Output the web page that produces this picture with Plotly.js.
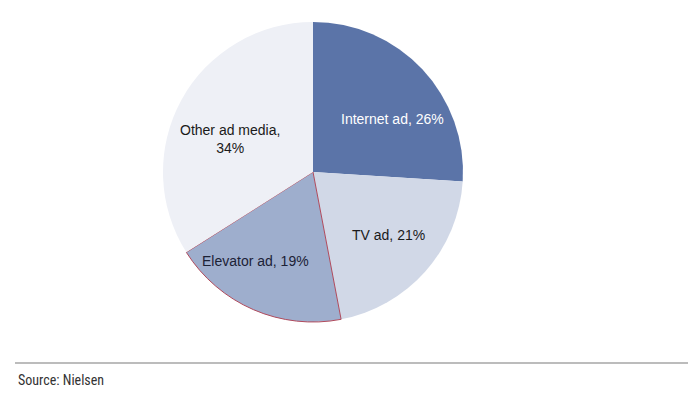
<!DOCTYPE html>
<html>
<head>
<meta charset="utf-8">
<script src="https://cdn.plot.ly/plotly-3.0.1.min.js"></script>
<style>
html,body{margin:0;padding:0;background:#fff;}
#chart{width:695px;height:393px;}
</style>
</head>
<body>
<div id="chart"></div>
<script>
const categories = ["Internet ad", "TV ad", "Elevator ad", "Other ad media"];
const values = [26, 21, 19, 34];
const labelBreak = ["", "", "", "<br>"];
const sliceColors = ["#5b74a8", "#d1d8e7", "#9eaecd", "#eef0f6"];
const textColors = ["#ffffff", "#1a1a1a", "#1c2236", "#1a1a1a"];
const sourceText = "Source: Nielsen";

// label placement (style): radial fraction and angular shift from slice middle
const labelRadius = [0.638, 0.653, 0.708, 0.595];
const labelShift = [9.9, -1.4, 9.7, -7.1];

const W = 695, H = 393;
const pieLeft = 163, pieRight = 463, pieTop = 22, pieBottom = 322;
const cx = (pieLeft + pieRight) / 2, cy = (pieTop + pieBottom) / 2, R = (pieRight - pieLeft) / 2;

const total = values.reduce((a, b) => a + b, 0);
let cum = 0;
const labelAnns = values.map((v, i) => {
  const mid = (cum + v / 2) / total * 360;
  cum += v;
  const a = (mid + labelShift[i]) * Math.PI / 180;
  const px = cx + labelRadius[i] * R * Math.sin(a);
  const py = cy - labelRadius[i] * R * Math.cos(a);
  const pct = Math.round(v / total * 100);
  return {
    text: categories[i] + "," + (labelBreak[i] || " ") + pct + "%",
    xref: "paper", yref: "paper", x: px / W, y: 1 - py / H,
    xanchor: "center", yanchor: "middle", showarrow: false,
    font: {family: "Liberation Sans, Arial, sans-serif", size: 14, color: textColors[i]}
  };
});

const trace = {
  type: "pie",
  labels: categories,
  values: values,
  textinfo: "none",
  hoverinfo: "label+percent",
  sort: false,
  direction: "clockwise",
  rotation: 0,
  marker: {
    colors: sliceColors,
    line: {color: ["rgba(0,0,0,0)", "rgba(0,0,0,0)", "#b04a5c", "rgba(0,0,0,0)"], width: [0, 0, 1, 0]}
  },
  domain: {x: [pieLeft / W, pieRight / W], y: [1 - pieBottom / H, 1 - pieTop / H]},
  showlegend: false
};

const layout = {
  width: W, height: H,
  margin: {l: 0, r: 0, t: 0, b: 0},
  paper_bgcolor: "#ffffff",
  showlegend: false,
  shapes: [{
    type: "line", xref: "paper", yref: "paper",
    x0: 15 / W, x1: 688 / W, y0: 1 - 363 / H, y1: 1 - 363 / H,
    line: {color: "#a6a6a6", width: 1.5}
  }],
  annotations: labelAnns.concat([{
    text: sourceText, xref: "paper", yref: "paper",
    x: 16 / W, y: 1 - 380 / H, xanchor: "left", yanchor: "middle",
    showarrow: false,
    font: {family: "Liberation Sans Narrow, Roboto Condensed, Arial Narrow, sans-serif", size: 14, color: "#333333"}
  }])
};

Plotly.newPlot("chart", [trace], layout, {displayModeBar: false, staticPlot: true});
</script>
</body>
</html>
